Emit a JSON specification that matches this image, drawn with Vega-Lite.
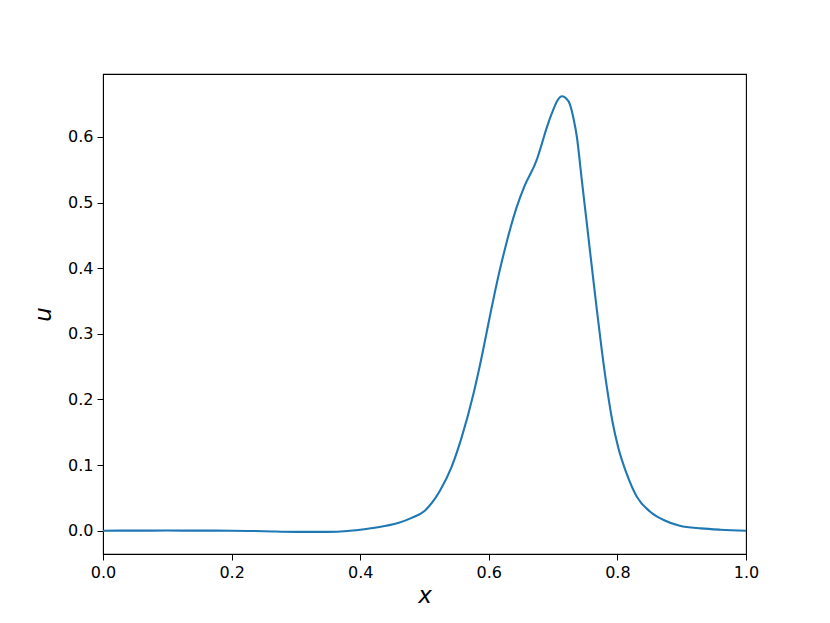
{
  "$schema": "https://vega.github.io/schema/vega-lite/v6.json",
  "width": 643,
  "height": 480,
  "autosize": {"type": "none"},
  "padding": {"left": 103, "top": 74, "right": 84, "bottom": 69},
  "background": "white",
  "config": {
    "view": {"stroke": "black", "strokeWidth": 1.1},
    "axis": {
      "labelFont": "DejaVu Sans",
      "labelFontSize": 16,
      "labelColor": "black",
      "labelFlush": false,
      "labelOverlap": false,
      "domainColor": "black",
      "tickColor": "black",
      "tickSize": 6,
      "labelPadding": 4,
      "grid": false,
      "titleFont": "DejaVu Sans",
      "titleFontSize": 23,
      "titleFontStyle": "italic",
      "titleFontWeight": "normal",
      "titleColor": "black"
    }
  },
  "data": {
    "values": [
      {"x": 0.00, "u": 0.0000},
      {"x": 0.05, "u": 0.0001},
      {"x": 0.10, "u": 0.0002},
      {"x": 0.15, "u": 0.0001},
      {"x": 0.20, "u": 0.0000},
      {"x": 0.25, "u": -0.0008},
      {"x": 0.30, "u": -0.0018},
      {"x": 0.35, "u": -0.0018},
      {"x": 0.38, "u": -0.0005},
      {"x": 0.40, "u": 0.0015},
      {"x": 0.42, "u": 0.0040},
      {"x": 0.44, "u": 0.0075},
      {"x": 0.46, "u": 0.0120},
      {"x": 0.48, "u": 0.0195},
      {"x": 0.50, "u": 0.0300},
      {"x": 0.512, "u": 0.0430},
      {"x": 0.524, "u": 0.0610},
      {"x": 0.542, "u": 0.0970},
      {"x": 0.558, "u": 0.1430},
      {"x": 0.576, "u": 0.2080},
      {"x": 0.589, "u": 0.2650},
      {"x": 0.597, "u": 0.3040},
      {"x": 0.604, "u": 0.3380},
      {"x": 0.610, "u": 0.3660},
      {"x": 0.617, "u": 0.3970},
      {"x": 0.625, "u": 0.4290},
      {"x": 0.633, "u": 0.4590},
      {"x": 0.643, "u": 0.4920},
      {"x": 0.655, "u": 0.5240},
      {"x": 0.6745, "u": 0.5650},
      {"x": 0.682, "u": 0.5880},
      {"x": 0.690, "u": 0.6140},
      {"x": 0.700, "u": 0.6410},
      {"x": 0.707, "u": 0.6560},
      {"x": 0.714, "u": 0.6620},
      {"x": 0.720, "u": 0.6590},
      {"x": 0.726, "u": 0.6500},
      {"x": 0.732, "u": 0.6270},
      {"x": 0.737, "u": 0.6000},
      {"x": 0.744, "u": 0.5400},
      {"x": 0.752, "u": 0.4720},
      {"x": 0.760, "u": 0.4040},
      {"x": 0.768, "u": 0.3370},
      {"x": 0.776, "u": 0.2730},
      {"x": 0.784, "u": 0.2160},
      {"x": 0.792, "u": 0.1680},
      {"x": 0.801, "u": 0.1280},
      {"x": 0.814, "u": 0.0880},
      {"x": 0.830, "u": 0.0520},
      {"x": 0.851, "u": 0.0290},
      {"x": 0.871, "u": 0.0167},
      {"x": 0.897, "u": 0.0076},
      {"x": 0.930, "u": 0.0035},
      {"x": 0.960, "u": 0.0015},
      {"x": 1.00, "u": 0.0000}
    ]
  },
  "mark": {"type": "line", "color": "#1f77b4", "strokeWidth": 2.1, "interpolate": "monotone", "clip": true},
  "encoding": {
    "x": {
      "field": "x",
      "type": "quantitative",
      "scale": {"domain": [0, 1], "nice": false, "zero": false},
      "axis": {"values": [0, 0.2, 0.4, 0.6, 0.8, 1.0], "format": ".1f", "title": "x", "titlePadding": 4}
    },
    "y": {
      "field": "u",
      "type": "quantitative",
      "scale": {"domain": [-0.0355, 0.696], "nice": false, "zero": false},
      "axis": {"values": [0, 0.1, 0.2, 0.3, 0.4, 0.5, 0.6], "format": ".1f", "title": "u", "titlePadding": 12}
    }
  }
}
